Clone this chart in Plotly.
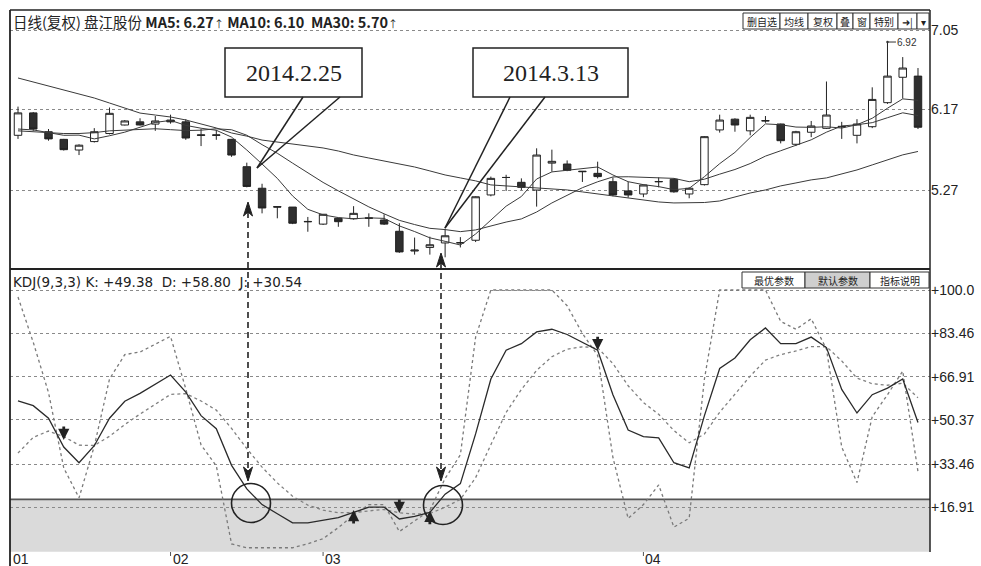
import plotly.graph_objects as go

W, H = 981, 566

# ---------------- data ----------------
day_index = list(range(60))
opens = [5.88, 6.13, 5.92, 5.835, 5.716, 5.81, 5.90, 5.995, 6.03, 6.005,
         6.05, 6.03, 5.885, 5.885, 5.835, 5.53, 5.29, 5.085, 5.08, 4.92,
         4.89, 4.955, 4.95, 4.96, 4.936, 4.81, 4.59, 4.63, 4.68, 4.68,
         4.71, 5.215, 5.41, 5.356, 5.27, 5.57, 5.56, 5.48, 5.456, 5.363,
         5.26, 5.226, 5.365, 5.39, 5.226, 5.33, 5.94, 6.06, 5.93, 6.04,
         6.006, 5.78, 5.914, 5.958, 5.98, 5.88, 5.976, 6.244, 6.527, 6.54]
highs = [6.20, 6.14, 5.95, 5.84, 5.78, 5.96, 6.19, 6.05, 6.07, 6.095,
         6.11, 6.06, 5.95, 5.94, 5.84, 5.575, 5.34, 5.085, 5.08, 4.97,
         5.00, 4.96, 5.09, 5.01, 5.00, 4.90, 4.74, 4.75, 4.84, 4.745,
         5.20, 5.42, 5.44, 5.40, 5.735, 5.72, 5.60, 5.48, 5.586, 5.41,
         5.363, 5.33, 5.41, 5.40, 5.30, 5.87, 6.11, 6.07, 6.11, 6.095,
         6.01, 5.93, 6.04, 6.48, 6.03, 6.06, 6.415, 6.92, 6.752, 6.63]
lows = [5.84, 5.93, 5.82, 5.71, 5.66, 5.80, 5.89, 5.99, 5.99, 5.93,
        6.01, 5.83, 5.76, 5.83, 5.64, 5.30, 5.01, 4.955, 4.89, 4.805,
        4.88, 4.86, 4.94, 4.86, 4.88, 4.57, 4.55, 4.55, 4.52, 4.63,
        4.69, 5.20, 5.26, 5.27, 5.085, 5.475, 5.48, 5.36, 5.40, 5.20,
        5.185, 5.19, 5.30, 5.24, 5.178, 5.32, 5.91, 5.92, 5.88, 6.02,
        5.79, 5.76, 5.86, 5.95, 5.84, 5.79, 5.96, 6.23, 6.29, 5.95]
closes = [6.13, 5.95, 5.84, 5.72, 5.77, 5.92, 6.125, 6.04, 5.995, 6.04,
          6.03, 5.85, 5.88, 5.88, 5.66, 5.31, 5.07, 5.08, 4.90, 4.917,
          5.00, 4.917, 5.01, 4.955, 4.89, 4.58, 4.60, 4.66, 4.76, 4.683,
          5.195, 5.40, 5.41, 5.30, 5.66, 5.59, 5.49, 5.475, 5.42, 5.215,
          5.215, 5.326, 5.363, 5.25, 5.29, 5.865, 6.05, 5.995, 6.08, 6.043,
          5.82, 5.92, 5.984, 6.106, 5.976, 6.006, 6.28, 6.54, 6.63, 5.97]

ma5 = [5.95, 5.94, 5.91, 5.88, 5.882, 5.84, 5.875, 5.915, 5.97, 6.024,
       6.046, 5.991, 5.959, 5.936, 5.86, 5.716, 5.56, 5.40, 5.204, 5.055,
       4.993, 4.963, 4.949, 4.96, 4.954, 4.87, 4.807, 4.737, 4.698, 4.657,
       4.78, 4.94, 5.09, 5.198, 5.393, 5.472, 5.49, 5.503, 5.527, 5.438,
       5.363, 5.33, 5.308, 5.274, 5.289, 5.419, 5.564, 5.69, 5.856, 6.007,
       5.998, 5.972, 5.969, 5.975, 5.961, 5.998, 6.07, 6.182, 6.286, 6.27]
ma10 = [5.93, 5.92, 5.91, 5.90, 5.90, 5.91, 5.93, 5.94, 5.95, 5.953,
        5.943, 5.933, 5.937, 5.953, 5.942, 5.881, 5.776, 5.68, 5.57, 5.458,
        5.355, 5.261, 5.174, 5.082, 5.005, 4.932, 4.885, 4.843, 4.829, 4.806,
        4.825, 4.873, 4.913, 4.948, 5.025, 5.126, 5.215, 5.296, 5.362, 5.416,
        5.418, 5.41, 5.405, 5.40, 5.363, 5.391, 5.447, 5.499, 5.565, 5.648,
        5.708, 5.768, 5.83, 5.915, 5.984, 5.998, 6.021, 6.076, 6.131, 6.10]
ma30 = [6.519, 6.474, 6.43, 6.385, 6.34, 6.296, 6.24, 6.184, 6.128, 6.106,
        6.084, 6.051, 6.006, 5.962, 5.906, 5.871, 5.827, 5.805, 5.782, 5.760,
        5.739, 5.705, 5.661, 5.627, 5.594, 5.561, 5.527, 5.483, 5.438, 5.405,
        5.372, 5.327, 5.316, 5.305, 5.294, 5.283, 5.271, 5.249, 5.227, 5.205,
        5.181, 5.159, 5.137, 5.126, 5.126, 5.131, 5.148, 5.193, 5.237, 5.271,
        5.316, 5.349, 5.383, 5.405, 5.450, 5.494, 5.550, 5.606, 5.662, 5.70]

k_vals = [57.6, 55.8, 51, 40, 34, 40.5, 51, 57.5, 60.5, 64,
          67.5, 61, 52, 47, 33, 24, 18, 14.5, 11, 11,
          12, 13, 15, 17, 17, 12.5, 13.5, 15, 22, 26,
          45, 66, 77, 79.5, 84, 85, 83, 80, 77, 60,
          46.5, 44, 43.5, 34, 32, 52, 70, 74, 81, 85.5,
          79.5, 79.5, 82, 78, 62, 53, 60, 62.5, 66, 49.38]
d_vals = [37.7, 43.7, 46.1, 44, 40.7, 40.6, 44.1, 48.6, 52.6, 56.4,
          60.1, 60.4, 57.6, 54.1, 47.1, 39.4, 32.3, 26.3, 21.2, 17.8,
          15.9, 14.9, 14.9, 15.6, 16.1, 14.9, 14.4, 14.6, 17, 20,
          28.3, 40.9, 53.2, 62, 69.3, 74.5, 77.4, 78.3, 77.9, 71.9,
          63.4, 57, 52.5, 46.3, 41.6, 45, 53.3, 60.2, 67.1, 73.2,
          75.3, 76.7, 78.4, 78.3, 72.9, 66.3, 64.2, 63.6, 64.4, 58.8]
j_vals = [97.3, 80, 60.8, 32, 20.6, 40.3, 66, 75.3, 76.3, 79.2,
          82.3, 62.2, 40.8, 32.8, 3, 1.5, 1.5, 1.5, 1.5, 3,
          5, 9.2, 14, 18, 18, 7.7, 11.7, 15.8, 28, 37,
          82, 100, 100, 100, 100, 100, 94, 83.4, 75, 36,
          12.7, 18, 25.5, 9.4, 12.8, 66, 100, 100, 100, 100,
          88, 85, 89, 77.4, 40, 26.4, 51.6, 60, 69, 30.54]

price_ticks = [7.05, 6.17, 5.27]
price_tick_text = ["7.05", "6.17", "5.27"]
kdj_ticks = [100.0, 83.46, 66.91, 50.37, 33.46, 16.91]
kdj_tick_text = ["+100.0", "+83.46", "+66.91", "+50.37", "+33.46", "+16.91"]
month_ticks = [-0.45, 10, 20, 41]
month_labels = ["01", "02", "03", "04"]
oversold_level = 20

# KD cross markers: (day index, value, direction)
cross_marks = [(3, 42.7, "down"), (38, 77, "down"), (22, 15.9, "up"),
               (25, 14.8, "down"), (27, 15.6, "up")]

callout_dates = ["2014.2.25", "2014.3.13"]

# ---------------- layout helpers (pixel -> paper) ----------------
def PX(x):
    return x / W

def PY(y):
    return 1 - y / H

X_LEFT, X_RIGHT = 10, 930
STEP = 15.254
FIRST = 18
x_range = [(X_LEFT - FIRST) / STEP, (X_RIGHT - FIRST) / STEP]

def price_at(y):
    return 6.17 - (y - 109.3) / 89.7

def kdj_at(y):
    return 100 - (y - 290) / 2.617

INK = "#222222"
GRID = "#8a8a8a"

fig = go.Figure()

fig.add_trace(go.Candlestick(
    x=day_index, open=opens, high=highs, low=lows, close=closes,
    increasing=dict(line=dict(color=INK, width=1), fillcolor="white"),
    decreasing=dict(line=dict(color=INK, width=1), fillcolor="#2f2f2f"),
    whiskerwidth=0, xaxis="x", yaxis="y", hoverinfo="skip"))

for series in (ma5, ma10, ma30):
    fig.add_trace(go.Scatter(x=day_index, y=series, mode="lines",
                             line=dict(color="#3a3a3a", width=1),
                             xaxis="x", yaxis="y", hoverinfo="skip"))

fig.add_trace(go.Scatter(x=day_index, y=j_vals, mode="lines",
                         line=dict(color="#7a7a7a", width=1.3, dash="dot"),
                         xaxis="x2", yaxis="y2", hoverinfo="skip"))
fig.add_trace(go.Scatter(x=day_index, y=d_vals, mode="lines",
                         line=dict(color="#808080", width=1.3, dash="3px,3px"),
                         xaxis="x2", yaxis="y2", hoverinfo="skip"))
fig.add_trace(go.Scatter(x=day_index, y=k_vals, mode="lines",
                         line=dict(color="#2a2a2a", width=1.3),
                         xaxis="x2", yaxis="y2", hoverinfo="skip"))

tick_font = dict(family="Liberation Sans, Arial, sans-serif", size=14, color=INK)

fig.update_layout(
    width=W, height=H, margin=dict(l=0, r=0, t=0, b=0),
    paper_bgcolor="white", plot_bgcolor="white", showlegend=False,
    xaxis=dict(domain=[PX(X_LEFT), PX(X_RIGHT)], range=x_range, anchor="y",
               showgrid=False, zeroline=False, showticklabels=False,
               rangeslider=dict(visible=False), fixedrange=True),
    yaxis=dict(domain=[PY(268), PY(10)], range=[price_at(268), price_at(10)],
               anchor="x", side="right", tickvals=price_ticks, ticktext=price_tick_text,
               showgrid=True, griddash="dot", gridcolor=GRID, gridwidth=1,
               zeroline=False, ticks="", tickfont=tick_font, showline=False),
    xaxis2=dict(domain=[PX(X_LEFT), PX(X_RIGHT)], range=x_range, anchor="y2",
                showgrid=False, zeroline=False, showticklabels=False),
    yaxis2=dict(domain=[PY(552), PY(270)], range=[kdj_at(552), kdj_at(270)],
                anchor="x2", side="right", tickvals=kdj_ticks, ticktext=kdj_tick_text,
                showgrid=True, griddash="dot", gridcolor=GRID, gridwidth=1,
                zeroline=False, ticks="", tickfont=tick_font, showline=False),
)

shapes = []
# oversold shading + 20 line
shapes.append(dict(type="rect", xref="paper", yref="y2", x0=PX(X_LEFT), x1=PX(X_RIGHT),
                   y0=0, y1=oversold_level, fillcolor="#dadada", line=dict(width=0),
                   layer="below"))
shapes.append(dict(type="line", xref="paper", yref="y2", x0=PX(X_LEFT), x1=PX(X_RIGHT),
                   y0=oversold_level, y1=oversold_level, line=dict(color="#555555", width=1.6),
                   layer="between"))

def pline(x0, y0, x1, y1, color=INK, width=1.5, dash="solid"):
    shapes.append(dict(type="line", xref="paper", yref="paper",
                       x0=PX(x0), y0=PY(y0), x1=PX(x1), y1=PY(y1),
                       line=dict(color=color, width=width, dash=dash), layer="above"))

# frame
pline(X_LEFT, 10, X_RIGHT, 10, width=1.5)
pline(X_LEFT, 10, X_LEFT, 566, width=1.8)
pline(X_RIGHT, 10, X_RIGHT, 552, width=1.5)
pline(X_LEFT, 269, X_RIGHT, 269, width=2.2)

# month tick marks at bottom
for t in month_ticks[1:]:
    xp = FIRST + t * STEP
    pline(xp, 552, xp, 556, color="#555555", width=1)

def ptext(x, y, text, font, xanchor="center", yanchor="middle"):
    fig.add_annotation(x=PX(x), y=PY(y), xref="paper", yref="paper", text=text,
                       showarrow=False, xanchor=xanchor, yanchor=yanchor, font=font)

# callout boxes
def callout(bx0, by0, bx1, by1, base1, base2, tip, text):
    shapes.append(dict(type="rect", xref="paper", yref="paper",
                       x0=PX(bx0), x1=PX(bx1), y0=PY(by1), y1=PY(by0),
                       fillcolor="white", line=dict(color=INK, width=1.5), layer="above"))
    pline(base1, by1, tip[0], tip[1], width=1.5)
    pline(base2, by1, tip[0], tip[1], width=1.5)
    ptext((bx0 + bx1) / 2, (by0 + by1) / 2, text,
          dict(family="Liberation Serif, DejaVu Serif, serif", size=24, color=INK))

callout(225, 48, 362, 97, 303, 340, (257, 168), callout_dates[0])
callout(473, 48, 628, 97, 510, 545, (445, 228), callout_dates[1])

# dashed vertical connectors with arrowheads
def connector(x, y_top, y_bot):
    pline(x, y_top + 10, x, y_bot - 10, width=1.6, dash="6px,4px")
    shapes.append(dict(type="path", xref="paper", yref="paper",
                       path=f"M {PX(x)},{PY(y_top)} L {PX(x-4.5)},{PY(y_top+14)} L {PX(x)},{PY(y_top+10)} L {PX(x+4.5)},{PY(y_top+14)} Z",
                       fillcolor=INK, line=dict(color=INK, width=1), layer="above"))
    shapes.append(dict(type="path", xref="paper", yref="paper",
                       path=f"M {PX(x)},{PY(y_bot)} L {PX(x-4.5)},{PY(y_bot-14)} L {PX(x)},{PY(y_bot-10)} L {PX(x+4.5)},{PY(y_bot-14)} Z",
                       fillcolor=INK, line=dict(color=INK, width=1), layer="above"))

connector(248, 202, 481)
connector(441, 253, 481)

# circles
for cx, cy in [(251, 503), (443, 505)]:
    shapes.append(dict(type="circle", xref="paper", yref="paper",
                       x0=PX(cx - 19.5), x1=PX(cx + 19.5), y0=PY(cy + 19.5), y1=PY(cy - 19.5),
                       line=dict(color=INK, width=1.6), layer="above"))

# toolbar buttons
def button(x0, x1, y0, y1, label, fill="white", size=10):
    shapes.append(dict(type="rect", xref="paper", yref="paper",
                       x0=PX(x0), x1=PX(x1), y0=PY(y1), y1=PY(y0),
                       fillcolor=fill, line=dict(color="#333333", width=1), layer="above"))
    ptext((x0 + x1) / 2, (y0 + y1) / 2, label,
          dict(family="Noto Sans CJK SC, sans-serif", size=size, color=INK))

for x0, x1, lab in [(743, 780, "删自选"), (780, 808, "均线"), (808, 837, "复权"),
                    (837, 853, "叠"), (853, 870, "窗"), (870, 898, "特别"),
                    (898, 917, "➜|"), (917, 929, "▾")]:
    button(x0, x1, 13, 29, lab)

for x0, x1, lab, fill in [(742, 805, "最优参数", "white"), (805, 870, "默认参数", "#cfcfcf"),
                          (870, 929, "指标说明", "white")]:
    button(x0, x1, 272, 288, lab, fill=fill)

fig.update_layout(shapes=shapes)

# headers
ptext(11, 21, "日线(复权) 盘江股份 <b>MA5: 6.27</b><span style='font-size:10px'>↑</span>"
              " <b>MA10: 6.10  MA30: 5.70</b><span style='font-size:10px'>↑</span>",
      dict(family="Noto Sans CJK SC, Liberation Sans, sans-serif", size=14.5, color=INK),
      xanchor="left")
ptext(11, 282, "KDJ(9,3,3) K: +49.38  D: +58.80  J: +30.54",
      dict(family="DejaVu Sans, sans-serif", size=13.5, color=INK), xanchor="left")

# highest price label
fig.add_annotation(x=57, y=highs[57], xref="x", yref="y", text="6.92", showarrow=True,
                   ax=20, ay=0, arrowhead=6, arrowsize=0.6, arrowwidth=1, arrowcolor="#333333",
                   xanchor="center", yanchor="middle",
                   font=dict(family="Liberation Sans, sans-serif", size=10, color="#333333"))

# KD cross markers
for xi, v, direction in cross_marks:
    fig.add_annotation(x=xi, y=v, xref="x2", yref="y2", text="", showarrow=True,
                       ax=0, ay=(-15 if direction == "down" else 15),
                       arrowhead=2, arrowsize=0.8, arrowwidth=2.8, arrowcolor=INK)

# month labels
for t, lab in zip(month_ticks, month_labels):
    fig.add_annotation(x=t, y=PY(559), xref="x2", yref="paper", text=lab, showarrow=False,
                       xanchor="left", yanchor="middle",
                       font=dict(family="Liberation Sans, Arial, sans-serif", size=14, color=INK))

fig.write_html("out.html", config={"displayModeBar": False},
               post_script="document.body.style.margin='0px';document.body.style.overflow='hidden';")
